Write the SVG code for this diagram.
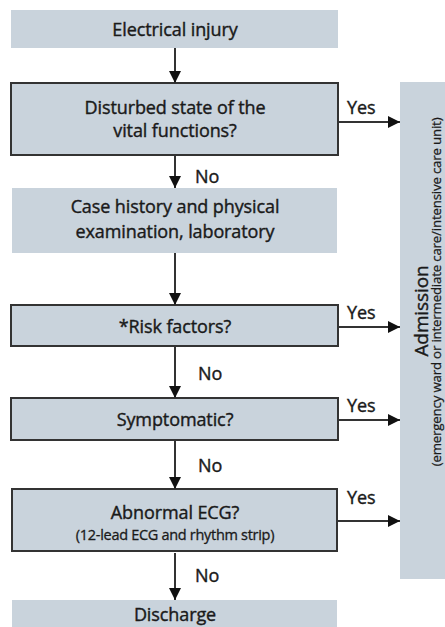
<svg xmlns="http://www.w3.org/2000/svg" width="445" height="627" viewBox="0 0 445 627">
<defs>
<marker id="ah" markerWidth="12" markerHeight="12" viewBox="0 0 12 12" refX="12" refY="6" orient="auto" markerUnits="userSpaceOnUse">
<path d="M0,0 L12,6 L0,12 Z" fill="#111"/>
</marker>
<style>
.box{fill:#c9d3dc}
.bd{stroke:#333;stroke-width:2}
.t{font-family:"Open Sans","Liberation Sans",sans-serif;font-size:18px;fill:#1a1a1a;stroke:#1a1a1a;stroke-width:0.4;text-anchor:middle;letter-spacing:-0.1px}
.s{font-size:14.5px;stroke-width:0.3;letter-spacing:-0.3px}
.s2{font-size:13.3px;stroke-width:0.25;letter-spacing:-0.2px}
.lbl{font-family:"Open Sans","Liberation Sans",sans-serif;font-size:18px;fill:#1a1a1a;stroke:#1a1a1a;stroke-width:0.4;letter-spacing:-0.1px}
.c{stroke:#333;stroke-width:2;fill:none;marker-end:url(#ah)}
</style>
</defs>
<rect width="445" height="627" fill="#fff"/>
<g id="n1"><rect class="box" x="11" y="10" width="327" height="38"/><text class="t" x="175" y="36">Electrical injury</text></g>
<g id="n2"><rect class="box bd" x="11" y="83" width="327" height="72"/><text class="t" x="175" y="114">Disturbed state of the</text><text class="t" x="175" y="137">vital functions?</text></g>
<g id="n3"><rect class="box" x="12" y="188" width="325" height="65"/><text class="t" x="175" y="213">Case history and physical</text><text class="t" x="175" y="238">examination, laboratory</text></g>
<g id="n4"><rect class="box bd" x="11" y="305" width="327" height="41"/><text class="t" x="175" y="333">*Risk factors?</text></g>
<g id="n5"><rect class="box bd" x="11" y="398" width="327" height="42"/><text class="t" x="175" y="426">Symptomatic?</text></g>
<g id="n6"><rect class="box bd" x="12" y="489" width="325" height="62"/><text class="t" x="175" y="519">Abnormal ECG?</text><text class="t s" x="175" y="540">(12-lead ECG and rhythm strip)</text></g>
<g id="n7"><rect class="box" x="12" y="600" width="325" height="27"/><text class="t" x="175" y="621">Discharge</text></g>
<g id="n8"><rect class="box" x="400" y="82" width="47" height="497"/>
<text class="t" style="font-size:19px" transform="translate(428,311) rotate(-90)">Admission</text>
<text class="t s2" transform="translate(441,292) rotate(-90)">(emergency ward or intermediate care/intensive care unit)</text></g>
<g id="connectors">
<line class="c" x1="175" y1="48" x2="175" y2="83"/>
<line class="c" x1="175" y1="155" x2="175" y2="188"/>
<line class="c" x1="175" y1="253" x2="175" y2="305"/>
<line class="c" x1="175" y1="346" x2="175" y2="398"/>
<line class="c" x1="175" y1="440" x2="175" y2="489"/>
<line class="c" x1="175" y1="553" x2="175" y2="600"/>
<line class="c" x1="338" y1="122" x2="400" y2="122"/>
<line class="c" x1="338" y1="327" x2="400" y2="327"/>
<line class="c" x1="338" y1="420" x2="400" y2="420"/>
<line class="c" x1="337" y1="521" x2="400" y2="521"/>
<text class="lbl" x="195" y="183">No</text>
<text class="lbl" x="198" y="380">No</text>
<text class="lbl" x="198" y="472">No</text>
<text class="lbl" x="195" y="582">No</text>
<text class="lbl" x="347" y="114">Yes</text>
<text class="lbl" x="347" y="319">Yes</text>
<text class="lbl" x="347" y="412">Yes</text>
<text class="lbl" x="347" y="504">Yes</text>
</g>
</svg>
